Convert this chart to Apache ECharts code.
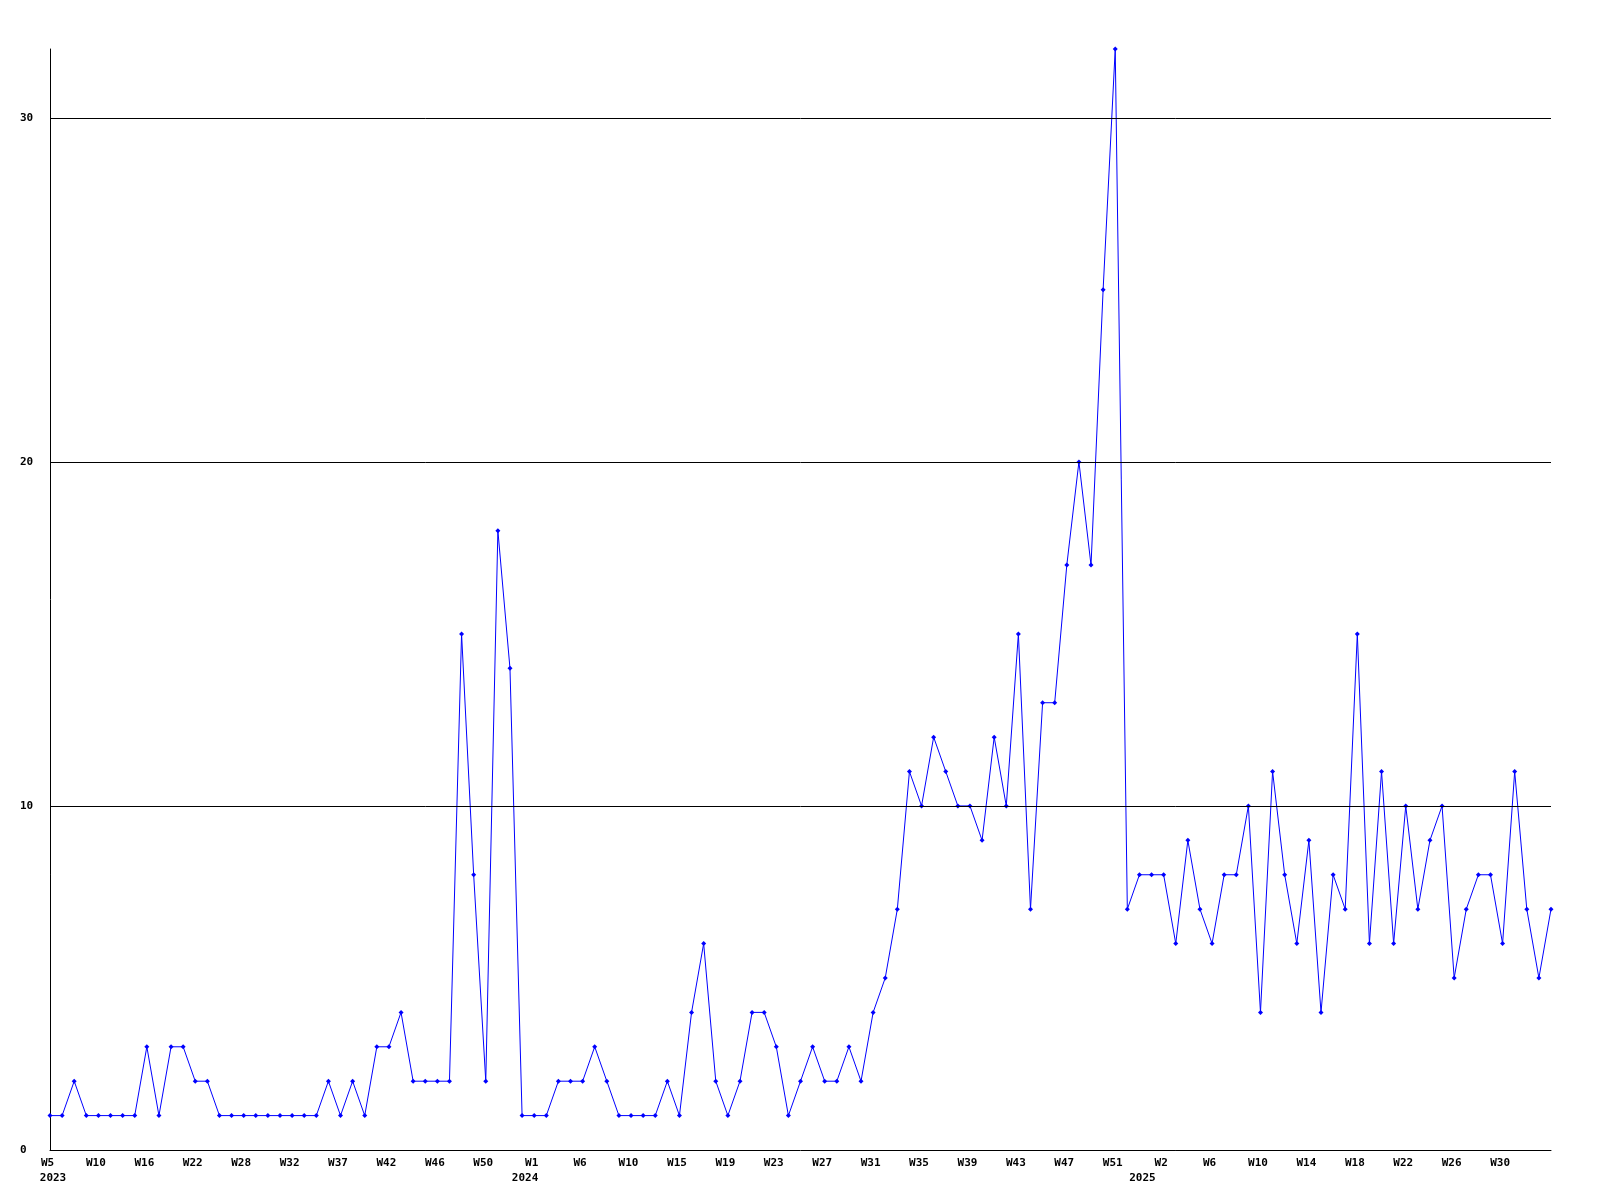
<!DOCTYPE html>
<html>
<head>
<meta charset="utf-8">
<script src="https://cdn.jsdelivr.net/npm/echarts@6/dist/echarts.min.js"></script>
<style>
html,body{margin:0;padding:0;background:#fff;}
#chart{width:1600px;height:1200px;}
</style>
</head>
<body>
<div id="chart"></div>
<script>
// Weekly counts, 2023 W5 .. 2025 (125 points)
const values = [
  1,1,2,1,1,1,1,1,3,1,
  3,3,2,2,1,1,1,1,1,1,
  1,1,1,2,1,2,1,3,3,4,
  2,2,2,2,15,8,2,18,14,1,
  1,1,2,2,2,3,2,1,1,1,
  1,2,1,4,6,2,1,2,4,4,
  3,1,2,3,2,2,3,2,4,5,
  7,11,10,12,11,10,10,9,12,10,
  15,7,13,13,17,20,17,25,32,7,
  8,8,8,6,9,7,6,8,8,10,
  4,11,8,6,9,4,8,7,15,6,
  11,6,10,7,9,10,5,7,8,8,
  6,11,7,5,7
];
// Week tick labels, shown every 4th point
const weekTicks = ['W5','W10','W16','W22','W28','W32','W37','W42','W46','W50',
  'W1','W6','W10','W15','W19','W23','W27','W31','W35','W39','W43','W47','W51',
  'W2','W6','W10','W14','W18','W22','W26','W30'];
// Year labels and the point index where each year starts
const yearNames = ['2023', '2024', '2025'];
const yearStarts = [0, 39, 90];
const yTicks = [0, 10, 20, 30];
const tickStep = 4;

const categories = values.map((v, i) => String(i));

const chart = echarts.init(document.getElementById('chart'), null, {renderer: 'canvas'});
const font = {fontFamily: 'DejaVu Sans Mono', fontWeight: 'bold', fontSize: 11, color: '#000'};
chart.setOption({
  animation: false,
  backgroundColor: '#ffffff',
  grid: {left: 50, right: 49, top: 49, bottom: 50, containLabel: false},
  xAxis: [{
    type: 'category',
    data: categories,
    boundaryGap: false,
    axisLine: {show: true, lineStyle: {color: '#000', width: 1}},
    axisTick: {show: false},
    splitLine: {show: false},
    axisLabel: Object.assign({}, font, {
      interval: function (idx) { return idx % tickStep === 0 && (idx / tickStep) < weekTicks.length; },
      margin: 6,
      lineHeight: 15,
      padding: [0, 5, 0, 0],
      formatter: function (val, idx) {
        const k = idx / tickStep;
        if (idx % tickStep !== 0 || k >= weekTicks.length) return '';
        return weekTicks[k];
      }
    })
  }, {
    type: 'category',
    data: categories,
    boundaryGap: false,
    position: 'bottom',
    offset: 0,
    axisLine: {show: false},
    axisTick: {show: false},
    splitLine: {show: false},
    axisLabel: Object.assign({}, font, {
      interval: function (idx) { return yearStarts.indexOf(idx) >= 0; },
      margin: 21,
      lineHeight: 15,
      padding: [0, 0, 0, 6],
      formatter: function (val, idx) {
        const k = yearStarts.indexOf(idx);
        return k >= 0 ? yearNames[k] : '';
      }
    })
  }],
  yAxis: {
    type: 'value',
    min: 0,
    max: 32,
    interval: 10,
    axisLine: {show: true, lineStyle: {color: '#000', width: 1}},
    axisTick: {show: false},
    splitLine: {show: false},
    axisLabel: Object.assign({}, font, {
      align: 'left',
      margin: 30,
      showMaxLabel: false,
      formatter: function (v) { return yTicks.indexOf(v) >= 0 ? String(v) : ''; }
    })
  },
  series: [{
    type: 'line',
    data: values,
    xAxisIndex: 0,
    symbol: 'diamond',
    symbolSize: 5,
    showAllSymbol: true,
    lineStyle: {color: '#0000ff', width: 1},
    itemStyle: {color: '#0000ff'},
    markLine: {
      silent: true,
      symbol: 'none',
      label: {show: false},
      lineStyle: {color: '#000', width: 1, type: 'solid'},
      data: yTicks.filter(v => v > 0).map(v => ({yAxis: v}))
    },
    z: 3
  }]
});
</script>
</body>
</html>
